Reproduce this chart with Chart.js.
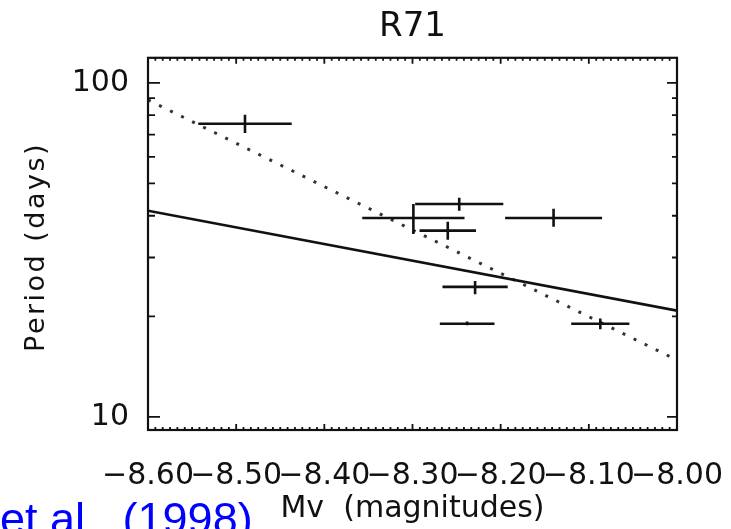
<!DOCTYPE html>
<html>
<head>
<meta charset="utf-8">
<title>R71</title>
<script src="https://cdn.jsdelivr.net/npm/chart.js@4.4.1/dist/chart.umd.min.js"></script>
<style>
  html, body { margin: 0; padding: 0; background: #fff; }
  canvas { display: block; }
</style>
</head>
<body>
<canvas id="chart" width="731" height="529"></canvas>
<script>
// R71: pulsation period against absolute magnitude
const mv       = [-8.490, -8.299, -8.247, -8.260, -8.140, -8.229, -8.238, -8.087];
const mvErr    = [0.053, 0.058, 0.050, 0.032, 0.055, 0.037, 0.031, 0.033];
const period   = [75.4, 39.4, 43.4, 36.1, 39.4, 24.5, 19.0, 19.0];
const periodLo = [70.8, 35.3, 41.4, 33.9, 37.1, 23.3, 18.8, 18.3];
const periodHi = [80.2, 43.4, 45.3, 38.4, 42.0, 25.5, 19.3, 19.7];

// fitted relations, end points at the plot edges
const fitMv     = [-8.60, -8.00];
const fitSolid  = [41.4, 20.8];
const fitDotted = [88.9, 14.8];

// axis ticks
const xLabels = [-8.60, -8.50, -8.40, -8.30, -8.20, -8.10, -8.00];
const xMinorPerMajor = 12;
const yLabels = [10, 100];
const yMinor  = [20, 30, 40, 50, 60, 70, 80, 90];

const FONT = 'DejaVu Sans';
const INK = '#111';

// error bars as broken polylines, a null point ends each segment
const hBars = [];
const vBars = [];
mv.forEach((m, i) => {
  hBars.push({x: m - mvErr[i], y: period[i]}, {x: m + mvErr[i], y: period[i]}, {x: m, y: null});
  vBars.push({x: m, y: periodLo[i]}, {x: m, y: periodHi[i]}, {x: m, y: null});
});

const line = (data, extra) => Object.assign({
  data: data,
  showLine: true,
  spanGaps: false,
  borderColor: INK,
  borderWidth: 2.6,
  pointRadius: 0,
  fill: false
}, extra || {});

// box, inward ticks, rotated y title and the caption below
const framePlugin = {
  id: 'frame',
  afterDraw(chart) {
    const {ctx, chartArea: a, scales: {x, y}} = chart;
    ctx.save();
    ctx.strokeStyle = INK;
    ctx.lineWidth = 2.2;
    ctx.strokeRect(a.left, a.top, a.right - a.left, a.bottom - a.top);

    ctx.lineWidth = 1.8;
    ctx.beginPath();
    const xt = (v, len) => {
      const px = x.getPixelForValue(v);
      ctx.moveTo(px, a.bottom); ctx.lineTo(px, a.bottom - len);
      ctx.moveTo(px, a.top);    ctx.lineTo(px, a.top + len);
    };
    const yt = (v, lenL, lenR) => {
      const py = y.getPixelForValue(v);
      ctx.moveTo(a.left, py);  ctx.lineTo(a.left + lenL, py);
      ctx.moveTo(a.right, py); ctx.lineTo(a.right - lenR, py);
    };
    for (let i = 0; i < xLabels.length; i++) {
      xt(xLabels[i], 6);
      if (i < xLabels.length - 1) {
        const step = (xLabels[i + 1] - xLabels[i]) / xMinorPerMajor;
        for (let k = 1; k < xMinorPerMajor; k++) xt(xLabels[i] + k * step, 3);
      }
    }
    yLabels.forEach(v => yt(v, 12, 10));
    yMinor.forEach(v => yt(v, 7, 5));
    ctx.stroke();

    // y axis title
    ctx.fillStyle = INK;
    ctx.font = '27px "' + FONT + '"';
    ctx.letterSpacing = '2.5px';
    ctx.textAlign = 'center';
    ctx.textBaseline = 'alphabetic';
    ctx.translate(44, (a.top + a.bottom) / 2 + 3);
    ctx.rotate(-Math.PI / 2);
    ctx.fillText('Period (days)', 0, 0);
    ctx.restore();

    // citation text running off the bottom edge
    ctx.save();
    ctx.fillStyle = '#0000ff';
    ctx.font = '45px "Liberation Sans"';
    ctx.textAlign = 'left';
    ctx.textBaseline = 'alphabetic';
    ctx.fillText('et al.  (1998)', 0, 534);
    ctx.restore();
  }
};

new Chart(document.getElementById('chart'), {
  type: 'scatter',
  data: {
    datasets: [
      line(hBars),
      line(vBars),
      line(pairs(fitMv, fitSolid)),
      line(pairs(fitMv, fitDotted), {borderDash: [3, 9.3], borderWidth: 3, borderColor: '#333'})
    ]
  },
  options: {
    responsive: false,
    animation: false,
    devicePixelRatio: 1,
    layout: { padding: { left: 0, right: 54, top: 0, bottom: 0 } },
    plugins: {
      legend: { display: false },
      tooltip: { enabled: false },
      title: {
        display: true,
        text: 'R71',
        fullSize: false,
        color: INK,
        font: { family: FONT, size: 34, weight: 'normal' },
        padding: { top: 7, bottom: 10 }
      }
    },
    scales: {
      x: {
        type: 'linear',
        position: 'bottom',
        min: -8.60,
        max: -8.00,
        grid: { display: false },
        border: { display: false },
        afterBuildTicks: s => { s.ticks = xLabels.map(v => ({value: v})); },
        afterFit: s => { s.height = 99; s.paddingLeft = 0; s.paddingRight = 0; },
        ticks: {
          autoSkip: false,
          maxRotation: 0,
          padding: 20,
          color: INK,
          font: { family: FONT, size: 30 },
          callback: v => (v < 0 ? '\u2212' : '') + Math.abs(v).toFixed(2)
        },
        title: {
          display: true,
          text: 'Mv  (magnitudes)',
          color: INK,
          font: { family: FONT, size: 30 },
          padding: { top: 0, bottom: 2 }
        }
      },
      y: {
        type: 'logarithmic',
        position: 'left',
        min: 9.14,
        max: 118.8,
        grid: { display: false },
        border: { display: false },
        afterBuildTicks: s => { s.ticks = yLabels.map(v => ({value: v})); },
        afterFit: s => { s.width = 148; s.paddingTop = 0; s.paddingBottom = 0; },
        ticks: {
          padding: 11,
          color: INK,
          font: { family: FONT, size: 30 },
          callback: v => String(v)
        }
      }
    }
  },
  plugins: [framePlugin]
});

function pairs(xs, ys) {
  return xs.map((x, i) => ({x: x, y: ys[i]}));
}
</script>
</body>
</html>
